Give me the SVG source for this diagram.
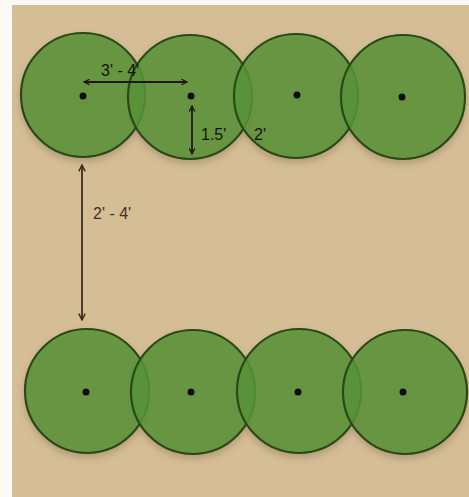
<svg xmlns="http://www.w3.org/2000/svg" width="469" height="497" viewBox="0 0 469 497">
<defs>
<style>
.plant{fill:#589337;fill-opacity:0.85;stroke:#2a4a15;stroke-width:2.2}
.dot{fill:#111}
.dim{fill:none;stroke:#1e1a10;stroke-width:1.8}
.dimb{fill:none;stroke:#3d2c1c;stroke-width:1.8}
.lbl{font-family:"Liberation Sans",Arial,sans-serif;font-size:16px;fill:#16130b}
.lblb{font-family:"Liberation Sans",Arial,sans-serif;font-size:16px;fill:#45311e}
</style>
<marker id="ah" viewBox="0 0 10 10" refX="9" refY="5" markerWidth="7" markerHeight="7" orient="auto-start-reverse" markerUnits="userSpaceOnUse">
<path d="M1,1 L9,5 L1,9" fill="none" stroke="#1e1a10" stroke-width="1.8"/>
</marker>
<marker id="ahb" viewBox="0 0 10 10" refX="9" refY="5" markerWidth="8" markerHeight="8" orient="auto-start-reverse" markerUnits="userSpaceOnUse">
<path d="M1,1 L9,5 L1,9" fill="none" stroke="#3d2c1c" stroke-width="1.8"/>
</marker>
<filter id="sh" x="-20%" y="-20%" width="140%" height="150%">
<feDropShadow dx="0" dy="4" stdDeviation="3" flood-color="#6b5a3a" flood-opacity="0.35"/>
</filter>
</defs>
<rect x="0" y="0" width="469" height="497" fill="#fbfaf7"/>
<rect x="12" y="5" width="457" height="492" fill="#d5bd96"/>
<g filter="url(#sh)">
<g id="plant-top-1"><circle class="plant" cx="83" cy="95" r="62"/><circle class="dot" cx="83" cy="96" r="3.5"/></g>
<g id="plant-top-2"><circle class="plant" cx="190" cy="97" r="62"/><circle class="dot" cx="191" cy="96" r="3.5"/></g>
<g id="plant-top-3"><circle class="plant" cx="296" cy="96" r="62"/><circle class="dot" cx="297" cy="95" r="3.5"/></g>
<g id="plant-top-4"><circle class="plant" cx="403" cy="97" r="62"/><circle class="dot" cx="402" cy="97" r="3.5"/></g>
<g id="plant-bot-1"><circle class="plant" cx="87" cy="391" r="62"/><circle class="dot" cx="86" cy="392" r="3.5"/></g>
<g id="plant-bot-2"><circle class="plant" cx="193" cy="392" r="62"/><circle class="dot" cx="191" cy="392" r="3.5"/></g>
<g id="plant-bot-3"><circle class="plant" cx="299" cy="391" r="62"/><circle class="dot" cx="298" cy="392" r="3.5"/></g>
<g id="plant-bot-4"><circle class="plant" cx="405" cy="392" r="62"/><circle class="dot" cx="403" cy="392" r="3.5"/></g>
</g>
<g id="connectors">
<line class="dim" x1="84" y1="82" x2="187" y2="82" marker-start="url(#ah)" marker-end="url(#ah)"/>
<line class="dim" x1="192" y1="106" x2="192" y2="154" marker-start="url(#ah)" marker-end="url(#ah)"/>
<line class="dimb" x1="82" y1="165" x2="82" y2="320" marker-start="url(#ahb)" marker-end="url(#ahb)"/>
</g>
<g id="labels">
<text class="lbl" x="101" y="76">3' - 4'</text>
<text class="lbl" x="201" y="140">1.5'</text>
<text class="lbl" x="254" y="140">2'</text>
<text class="lblb" x="93" y="219">2' - 4'</text>
</g>
</svg>
